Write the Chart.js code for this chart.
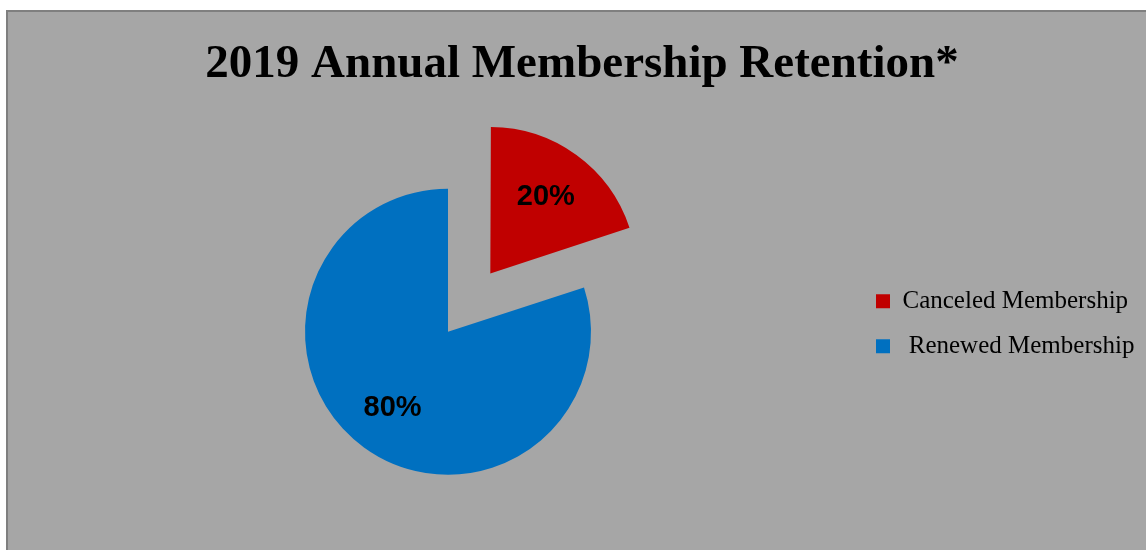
<!DOCTYPE html>
<html>
<head>
<meta charset="utf-8">
<script src="https://cdn.jsdelivr.net/npm/chart.js@4.4.1/dist/chart.umd.min.js"></script>
<style>
  html, body { margin: 0; padding: 0; background: #fff; }
  body { width: 1146px; height: 550px; position: relative; overflow: hidden; }
  #panel { position: absolute; left: 6px; top: 10px; width: 1150px; height: 560px;
           background: #a6a6a6; border: 2px solid #7f7f7f; }
  #chart { position: absolute; left: 0; top: 0; }
</style>
</head>
<body>
<div id="panel"></div>
<canvas id="chart" width="1146" height="550"></canvas>
<script>
// data
const categories = ['Canceled Membership', ' Renewed Membership'];
const shares = [20, 80];
const chartTitle = '2019 Annual Membership Retention*';

// percent labels on the slices
const sliceLabels = {
    id: 'sliceLabels',
    afterDatasetsDraw(chart) {
        const ctx = chart.ctx;
        const meta = chart.getDatasetMeta(0);
        ctx.save();
        ctx.font = 'bold 29px "Liberation Sans", Arial, sans-serif';
        ctx.fillStyle = '#000';
        ctx.textAlign = 'center';
        ctx.textBaseline = 'middle';
        meta.data.forEach((arc, i) => {
            const p = arc.getProps(['x', 'y', 'startAngle', 'endAngle', 'outerRadius'], true);
            const mid = (p.startAngle + p.endAngle) / 2;
            const pull = (arc.options.offset || 0) / 4; // arc element moves offset/4
            const r = pull + p.outerRadius * 0.66;
            ctx.fillText(shares[i] + '%', p.x + Math.cos(mid) * r, p.y + Math.sin(mid) * r);
        });
        ctx.restore();
    }
};

// move the legend to where the original sits (further left, a bit higher)
const legendPin = {
    id: 'legendPin',
    afterLayout(chart) {
        const lg = chart.legend;
        if (!lg) return;
        lg.left -= 22;          // right edge kept so the text is not clipped
        lg.top -= 8;
        lg.bottom -= 8;
    }
};

new Chart(document.getElementById('chart'), {
    type: 'pie',
    data: {
        labels: categories,
        datasets: [{
            data: shares,
            backgroundColor: ['#c00000', '#0070c0'],
            borderWidth: 0,
            offset: [288, 0],
            hoverOffset: 0
        }]
    },
    options: {
        responsive: false,
        animation: false,
        events: [],
        radius: 143,
        layout: { padding: { left: 18, right: 0, top: 10, bottom: 0 } },
        plugins: {
            title: {
                display: true,
                text: chartTitle,
                color: '#000',
                font: { family: '"Liberation Serif", "Times New Roman", serif', size: 47, weight: 'bold' },
                padding: { top: 27, bottom: 20 }
            },
            legend: {
                position: 'right',
                fullSize: false,
                maxWidth: 268,
                labels: {
                    color: '#000',
                    font: { family: '"Liberation Serif", "Times New Roman", serif', size: 25 },
                    boxWidth: 14,
                    boxHeight: 14,
                    padding: 20
                }
            },
            tooltip: { enabled: false }
        }
    },
    plugins: [sliceLabels, legendPin]
});
</script>
</body>
</html>
